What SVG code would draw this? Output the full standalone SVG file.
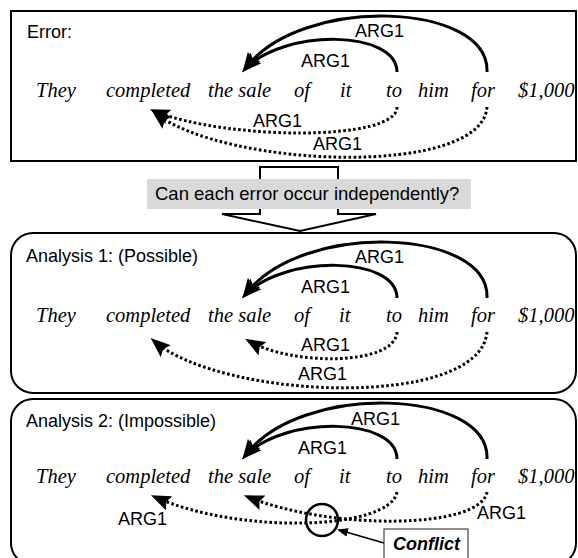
<svg xmlns="http://www.w3.org/2000/svg" width="578" height="558" viewBox="0 0 578 558">
  <defs>
    <style>
      .frame { fill: #ffffff; stroke: #000000; stroke-width: 2; }
      .label { font-family: "Liberation Sans", Arial, sans-serif; font-size: 18px; fill: #000000; }
      .word { font-family: "Liberation Serif", "Times New Roman", serif; font-style: italic; font-size: 20.5px; fill: #000000; }
      .solid { fill: none; stroke: #000000; stroke-width: 3; marker-end: url(#head); }
      .dotted { fill: none; stroke: #000000; stroke-width: 3; stroke-dasharray: 2.6 2.4; marker-end: url(#head); }
    </style>
    <marker id="head" markerUnits="userSpaceOnUse" markerWidth="20" markerHeight="16" viewBox="0 0 18 14" refX="14" refY="7" orient="auto">
      <path d="M0,0 L18,7 L0,14 L3,7 z" fill="#000000"/>
    </marker>
    <marker id="smallhead" markerUnits="userSpaceOnUse" markerWidth="11" markerHeight="9" viewBox="0 0 11 9" refX="9" refY="4.5" orient="auto">
      <path d="M0,0 L11,4.5 L0,9 z" fill="#000000"/>
    </marker>
  </defs>

  <!-- Panel: error -->
  <g id="panel-error">
    <rect class="frame" x="11" y="11" width="565" height="150"/>
    <text class="label" x="27" y="37.5">Error:</text>
    <g class="sentence">
      <text class="word" x="36" y="96.5">They</text>
      <text class="word" x="106" y="96.5">completed</text>
      <text class="word" x="208" y="96.5">the sale</text>
      <text class="word" x="294" y="96.5">of</text>
      <text class="word" x="340" y="96.5">it</text>
      <text class="word" x="386" y="96.5">to</text>
      <text class="word" x="418" y="96.5">him</text>
      <text class="word" x="471" y="96.5">for</text>
      <text class="word" x="518" y="96.5">$1,000</text>
    </g>
  </g>

  <!-- Question arrow between panels -->
  <g id="question">
    <path d="M260,167 H338 V214 H376 L300,231 L222,214 H260 Z" fill="#ffffff" stroke="#000000" stroke-width="2"/>
    <rect x="147" y="179" width="324" height="30" fill="#d9d9d9"/>
    <text class="label" x="155" y="200" font-size="18.5" style="font-size:18.5px">Can each error occur independently?</text>
  </g>

  <!-- Panel: analysis 1 -->
  <g id="panel-analysis-1">
    <rect class="frame" x="11" y="233" width="565" height="160" rx="22" ry="22"/>
    <text class="label" x="26" y="261.5">Analysis 1: (Possible)</text>
    <g class="sentence">
      <text class="word" x="36" y="321.5">They</text>
      <text class="word" x="106" y="321.5">completed</text>
      <text class="word" x="208" y="321.5">the sale</text>
      <text class="word" x="294" y="321.5">of</text>
      <text class="word" x="339" y="321.5">it</text>
      <text class="word" x="386" y="321.5">to</text>
      <text class="word" x="418" y="321.5">him</text>
      <text class="word" x="471" y="321.5">for</text>
      <text class="word" x="518" y="321.5">$1,000</text>
    </g>
  </g>

  <!-- Panel: analysis 2 -->
  <g id="panel-analysis-2">
    <rect class="frame" x="11" y="399" width="565" height="166" rx="22" ry="22"/>
    <text class="label" x="26" y="427">Analysis 2: (Impossible)</text>
    <g class="sentence">
      <text class="word" x="36" y="483">They</text>
      <text class="word" x="106" y="483">completed</text>
      <text class="word" x="208" y="483">the sale</text>
      <text class="word" x="294" y="483">of</text>
      <text class="word" x="339" y="483">it</text>
      <text class="word" x="386" y="483">to</text>
      <text class="word" x="418" y="483">him</text>
      <text class="word" x="471" y="483">for</text>
      <text class="word" x="518" y="483">$1,000</text>
    </g>
  </g>

  <!-- Argument links -->
  <g id="connectors">
    <!-- error panel -->
    <path class="solid" d="M487,72 C490,2 300,-6 245,69"/>
    <path class="solid" d="M397,72 C397,30 285,28 245,69"/>
    <path class="dotted" d="M397,107 C397,142 225,140 154,111"/>
    <path class="dotted" d="M487,107 C482,178 225,168 155,113"/>

    <!-- analysis 1 -->
    <path class="solid" d="M487,298 C490,228 300,220 245,295"/>
    <path class="solid" d="M397,298 C397,256 285,254 245,295"/>
    <path class="dotted" d="M397,332 C395,366 292,366 249,341"/>
    <path class="dotted" d="M487,332 C480,410 222,400 154,341"/>

    <!-- analysis 2 -->
    <path class="solid" d="M487,459 C490,389 300,381 245,456"/>
    <path class="solid" d="M397,459 C397,417 285,415 245,456"/>
    <path class="dotted" d="M397,492 C390,530 240,535 155,497"/>
    <path class="dotted" d="M487,492 C480,530 330,530 248,497"/>
  </g>

  <!-- Link labels -->
  <g id="link-labels" class="label">
    <text class="label" x="355" y="37">ARG1</text>
    <text class="label" x="301" y="66.5">ARG1</text>
    <text class="label" x="253" y="127">ARG1</text>
    <text class="label" x="313" y="150">ARG1</text>

    <text class="label" x="355" y="263">ARG1</text>
    <text class="label" x="301" y="292.5">ARG1</text>
    <text class="label" x="301" y="350.5">ARG1</text>
    <text class="label" x="298" y="380">ARG1</text>

    <text class="label" x="351" y="425">ARG1</text>
    <text class="label" x="298" y="454">ARG1</text>
    <text class="label" x="118" y="525">ARG1</text>
    <text class="label" x="477" y="519">ARG1</text>
  </g>

  <!-- Crossing callout -->
  <g id="conflict">
    <circle cx="322" cy="520" r="16" fill="none" stroke="#000000" stroke-width="2.5"/>
    <line x1="384" y1="543" x2="339" y2="530" stroke="#000000" stroke-width="1.8" marker-end="url(#smallhead)"/>
    <rect x="384" y="529" width="84" height="40" fill="#ffffff" stroke="#444444" stroke-width="1.2"/>
    <text x="393" y="550" font-family="Liberation Sans, Arial, sans-serif" font-size="18" font-weight="bold" font-style="italic" fill="#000000">Conflict</text>
  </g>
</svg>
